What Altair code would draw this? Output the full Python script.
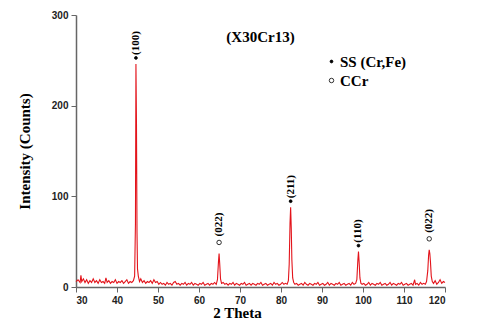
import altair as alt
import pandas as pd

two_theta = [30.0,30.5,31.0,31.2,31.4,31.8,32.2,32.6,33.0,33.4,33.8,34.2,34.6,35.0,35.4,35.8,36.2,36.6,37.0,37.3,37.6,38.0,38.4,38.8,39.2,39.6,40.0,40.4,40.8,41.2,41.6,42.0,42.4,42.8,43.2,43.6,44.0,44.3,44.5,44.62,44.75,44.88,45.0,45.2,45.5,45.8,46.2,46.6,47.0,47.4,47.8,48.2,48.6,49.0,49.4,49.8,50.2,50.6,51.0,51.4,51.8,52.2,52.6,53.0,53.4,53.8,54.2,54.6,55.0,55.4,55.8,56.2,56.6,57.0,57.4,57.8,58.2,58.6,59.0,59.4,59.8,60.2,60.6,61.0,61.4,61.8,62.2,62.6,63.0,63.4,63.8,64.2,64.5,64.75,64.9,65.05,65.25,65.5,65.9,66.3,66.7,67.1,67.5,67.9,68.3,68.7,69.1,69.5,69.9,70.3,70.7,71.1,71.5,71.9,72.3,72.7,73.1,73.5,73.9,74.3,74.7,75.1,75.5,75.9,76.3,76.7,77.1,77.5,77.9,78.3,78.7,79.1,79.5,79.9,80.3,80.7,81.1,81.5,81.8,82.0,82.2,82.35,82.5,82.65,82.85,83.1,83.4,83.8,84.2,84.6,85.0,85.4,85.8,86.2,86.6,87.0,87.4,87.8,88.2,88.6,89.0,89.4,89.8,90.2,90.6,91.0,91.4,91.8,92.2,92.6,93.0,93.4,93.8,94.2,94.6,95.0,95.4,95.8,96.2,96.6,97.0,97.4,97.8,98.2,98.5,98.75,98.9,99.05,99.25,99.5,99.8,100.2,100.6,101.0,101.4,101.8,102.2,102.6,103.0,103.4,103.8,104.2,104.6,105.0,105.4,105.8,106.2,106.6,107.0,107.4,107.8,108.2,108.6,109.0,109.4,109.8,110.2,110.6,111.0,111.4,111.8,112.2,112.6,112.8,113.2,113.6,114.0,114.4,114.8,115.2,115.5,115.8,116.0,116.15,116.3,116.45,116.65,116.9,117.2,117.6,118.0,118.4,118.8,119.2,119.6,120.0]
counts = [6,8,5,13,6,9,5,8,4,7,5,9,5,7,4,8,5,6,4,10,5,7,4,6,5,8,4,6,5,7,4,6,8,4,6,5,7,12,70,246,180,60,20,12,6,9,5,7,4,6,5,7,4,8,5,6,3,5,3,4,2,5,3,4,2,5,6,3,4,2,4,3,5,2,4,3,5,2,4,3,2,4,3,5,2,3,4,2,4,3,5,3,8,28,37,26,9,4,5,3,4,2,4,3,5,2,4,3,2,4,3,5,2,3,4,2,4,3,2,4,3,5,2,3,4,2,3,4,2,5,3,4,2,3,5,3,4,3,7,25,70,88,65,30,10,5,3,4,2,3,4,2,5,3,2,4,3,2,4,3,5,2,3,4,2,3,5,2,4,3,2,4,3,5,2,3,4,2,3,4,2,5,3,4,8,30,39,28,10,4,3,4,2,3,5,2,4,3,2,4,3,5,2,3,4,2,3,5,2,4,3,2,4,3,5,2,3,4,2,3,4,2,8,3,4,2,5,3,4,3,6,18,35,41,37,28,12,6,4,7,3,5,8,4,6,5]

peak_pos = [44.62, 64.9, 82.35, 98.9, 116.15]
peak_height = [246, 37, 88, 39, 41]
peak_hkl = ["(100)", "(022)", "(211)", "(110)", "(022)"]
peak_phase = ["SS (Cr,Fe)", "CCr", "SS (Cr,Fe)", "SS (Cr,Fe)", "CCr"]

phases = ["SS (Cr,Fe)", "CCr"]

xrd = pd.DataFrame({"two_theta": two_theta, "counts": counts})
peaks = pd.DataFrame({"pos": peak_pos, "h": peak_height, "hkl": peak_hkl, "phase": peak_phase})

SERIF = "Liberation Serif"
SANS = "Liberation Sans"

xscale = alt.Scale(domain=[30, 120], nice=False)
yscale = alt.Scale(domain=[0, 300], nice=False)

line = alt.Chart(xrd).mark_line(color="#e3141b", strokeWidth=1.1).encode(
    x=alt.X("two_theta:Q", scale=xscale,
            axis=alt.Axis(title="2 Theta", values=list(range(30, 121, 10)), format="d",
                          titleX=161, titleY=30, titleBaseline="alphabetic",
                          titleAnchor="start", titleAlign="center")),
    y=alt.Y("counts:Q", scale=yscale,
            axis=alt.Axis(title="Intensity (Counts)", values=[0, 100, 200, 300], format="d")),
)

base = alt.Chart(peaks).encode(
    x=alt.X("pos:Q", scale=xscale),
    y=alt.Y("h:Q", scale=yscale),
)

leg = alt.Legend(title=None, orient="none", legendX=248, legendY=39,
                 labelFont=SERIF, labelFontWeight="bold", labelFontSize=15,
                 labelColor="black", symbolStrokeWidth=0.8, rowPadding=3,
                 labelOffset=1, padding=0, symbolType="circle")

marker_enc = dict(
    fill=alt.Fill("phase:N", scale=alt.Scale(domain=phases, range=["black", "white"]),
                  legend=leg),
    stroke=alt.Stroke("phase:N", scale=alt.Scale(domain=phases, range=["black", "black"]),
                      legend=leg),
    size=alt.Size("phase:N", scale=alt.Scale(domain=phases, range=[8, 20]), legend=leg),
)

ss_mark = base.transform_filter(alt.datum.phase == "SS (Cr,Fe)").mark_point(
    shape="circle", filled=True, strokeWidth=0.8, opacity=1, yOffset=-6
).encode(**marker_enc)
ccr_mark = base.transform_filter(alt.datum.phase == "CCr").mark_point(
    shape="circle", filled=True, strokeWidth=0.8, opacity=1, yOffset=-11
).encode(**marker_enc)

ss_text = base.transform_filter(alt.datum.phase == "SS (Cr,Fe)").mark_text(
    angle=270, align="left", baseline="middle", font=SERIF, fontWeight="bold",
    fontSize=11, color="black", yOffset=-9
).encode(text="hkl:N")
ccr_text = base.transform_filter(alt.datum.phase == "CCr").mark_text(
    angle=270, align="left", baseline="middle", font=SERIF, fontWeight="bold",
    fontSize=11, color="black", yOffset=-17
).encode(text="hkl:N")

chart = alt.layer(line, ss_mark, ccr_mark, ss_text, ccr_text).properties(
    width=369, height=272,
    title=alt.TitleParams("(X30Cr13)", font=SERIF, fontSize=15, fontWeight="bold",
                          color="black", anchor="middle", offset=-35),
    autosize=alt.AutoSizeParams(type="none"),
    padding={"left": 68, "top": 7, "right": 27, "bottom": 41},
).configure_view(stroke=None).configure_axis(
    grid=False, domainColor="#666666", domainWidth=1.5, tickColor="#666666",
    tickSize=5, tickWidth=1, labelFont=SANS, labelFontWeight="bold", labelFontSize=10,
    labelColor="#222222", titleFont=SERIF, titleFontWeight="bold", titleColor="black",
    labelPadding=3,
).configure_axisX(titleFontSize=15).configure_axisY(
    titleFontSize=15, titlePadding=19
)

chart.save("out.html", embed_options={"renderer": "svg", "actions": False})
